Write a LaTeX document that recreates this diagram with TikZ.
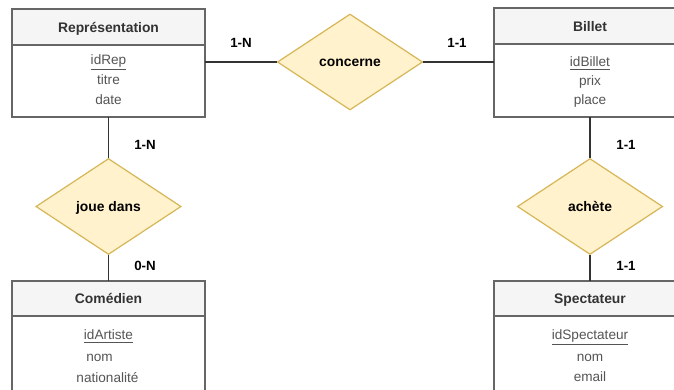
\documentclass[tikz,border=0pt]{standalone}
\usepackage{fontspec}
\setmainfont{Liberation Sans}
\usetikzlibrary{shapes.geometric}
\definecolor{boxline}{HTML}{666666}
\definecolor{headfill}{HTML}{F5F5F5}
\definecolor{relfill}{HTML}{FFF2CC}
\definecolor{relline}{HTML}{D6B656}
\definecolor{txt}{HTML}{333333}
\definecolor{attr}{HTML}{555555}
\tikzset{
  x=0.75pt, y=-0.75pt,
  every node/.style={text height=0.9em, text depth=0.18em},
  entbox/.style={draw=boxline, line width=1.1pt, fill=white},
  enthead/.style={draw=boxline, line width=1.1pt, fill=headfill},
  headtxt/.style={font=\bfseries\fontsize{10.4}{12}\selectfont, text=txt},
  attrtxt/.style={font=\fontsize{10.2}{12}\selectfont, text=attr, inner sep=0pt},
  rel/.style={diamond, draw=relline, line width=0.9pt, fill=relfill, minimum width=109pt, minimum height=72pt, aspect=1.5, inner sep=0pt, font=\bfseries\fontsize{10.4}{12}\selectfont, text=black},
  link/.style={draw=txt, line width=0.8pt},
  card/.style={font=\bfseries\fontsize{10}{12}\selectfont, text=black}
}
\begin{document}
\begin{tikzpicture}
\useasboundingbox (0,0) rectangle (674,389);
\clip (0,0) rectangle (674,389);
\fill[white] (0,0) rectangle (674,389);
% Représentation
\draw[entbox] (12,9) rectangle (205,117);
\draw[enthead] (12,9) rectangle (205,45);
\node[headtxt] (rep) at (108.5,27.5) {Représentation};
\coordinate (repR) at (205,62);
\coordinate (repB) at (108.5,117);
\node[attrtxt] (repa) at (108.5,60) {\underline{idRep}};
\node[attrtxt] (repb) at (108.5,80) {titre};
\node[attrtxt] (repc) at (108.5,100) {date};
% Billet
\draw[entbox] (494,8) rectangle (686,117);
\draw[enthead] (494,8) rectangle (686,44);
\node[headtxt] (bil) at (590,26.5) {Billet};
\coordinate (bilL) at (494,62);
\coordinate (bilB) at (590,117);
\node[attrtxt] (bila) at (590,62) {\underline{idBillet}};
\node[attrtxt] (bilb) at (590,81) {prix};
\node[attrtxt] (bilc) at (590,100) {place};
% Comédien
\draw[entbox] (12,281) rectangle (205,400);
\draw[enthead] (12,281) rectangle (205,316);
\node[headtxt] (com) at (108.5,298.5) {Comédien};
\coordinate (comT) at (108.5,281);
\node[attrtxt] (coma) at (108.5,335) {\underline{idArtiste}};
\node[attrtxt] (comb) at (99.5,357) {nom};
\node[attrtxt] (comc) at (107.5,378) {nationalité};
% Spectateur
\draw[entbox] (494,281) rectangle (686,400);
\draw[enthead] (494,281) rectangle (686,316);
\node[headtxt] (spe) at (590,298.5) {Spectateur};
\coordinate (speT) at (590,281);
\node[attrtxt] (spea) at (590,335) {\underline{idSpectateur}};
\node[attrtxt] (speb) at (590,357) {nom};
\node[attrtxt] (spec) at (590,377) {email};
% relations
\node[rel] (conc) at (350,62) {concerne};
\node[rel] (joue) at (108.5,206.5) {joue dans};
\node[rel] (ach) at (590,206.5) {achète};
% links
\draw[link] (repR) -- (conc.west);
\draw[link] (conc.east) -- (bilL);
\draw[link] (repB) -- (joue.north);
\draw[link] (joue.south) -- (comT);
\draw[link] (bilB) -- (ach.north);
\draw[link] (ach.south) -- (speT);
% cardinalities
\node[card] (c1) at (241,43) {1-N};
\node[card] (c2) at (457,43) {1-1};
\node[card] (c3) at (145,145) {1-N};
\node[card] (c4) at (145,266) {0-N};
\node[card] (c5) at (626,145) {1-1};
\node[card] (c6) at (626,266) {1-1};
\end{tikzpicture}
\end{document}
